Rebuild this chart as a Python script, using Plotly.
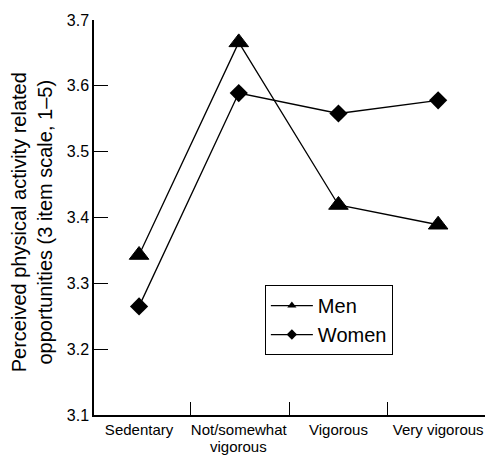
import plotly.graph_objects as go

categories = ["Sedentary", "Not/somewhat<br>vigorous", "Vigorous", "Very vigorous"]
men = [3.343, 3.666, 3.419, 3.389]
women = [3.265, 3.589, 3.558, 3.578]
y_ticks = [3.1, 3.2, 3.3, 3.4, 3.5, 3.6, 3.7]

x = list(range(len(categories)))
FONT = "Liberation Sans, Arial, Helvetica, sans-serif"

# first line of each category goes on the axis, second lines (tight spacing) as annotations
first_lines = [c.split("<br>")[0] for c in categories]
second_lines = [(i, c.split("<br>")[1]) for i, c in enumerate(categories) if "<br>" in c]

fig = go.Figure()
fig.add_trace(go.Scatter(
    x=x, y=men, mode="lines+markers", showlegend=False, cliponaxis=False,
    line=dict(color="black", width=1.3),
    marker=dict(symbol="triangle-up", size=17, color="black",
                line=dict(color="black", width=1)),
))
fig.add_trace(go.Scatter(
    x=x, y=women, mode="lines+markers", showlegend=False, cliponaxis=False,
    line=dict(color="black", width=1.3),
    marker=dict(symbol="diamond", size=14, color="black"),
))
# legend-only entries with small markers
fig.add_trace(go.Scatter(
    x=[None], y=[None], mode="lines+markers", name="Men",
    line=dict(color="black", width=1.3),
    marker=dict(symbol="triangle-up", size=8, color="black"),
))
fig.add_trace(go.Scatter(
    x=[None], y=[None], mode="lines+markers", name="Women",
    line=dict(color="black", width=1.3),
    marker=dict(symbol="diamond", size=8, color="black"),
))

annotations = [dict(
    text="Perceived physical activity related<br>opportunities (3 item scale, 1–5)",
    xref="paper", yref="paper", x=-0.16, y=0.489,
    xanchor="center", yanchor="middle", textangle=-90,
    showarrow=False, font=dict(size=20, family=FONT, color="black"),
)]
for i, txt in second_lines:
    annotations.append(dict(
        text=txt, xref="x", yref="paper", x=i, y=0,
        xanchor="center", yanchor="bottom", yshift=-41, borderpad=0,
        showarrow=False, font=dict(size=15, family=FONT, color="black"),
    ))

fig.update_layout(
    width=485, height=455,
    margin=dict(l=94, r=0, t=20, b=40, autoexpand=False),
    paper_bgcolor="white", plot_bgcolor="white",
    font=dict(family=FONT, color="black"),
    legend=dict(
        x=0.437, y=0.329, xanchor="left", yanchor="top",
        bordercolor="black", borderwidth=1, bgcolor="white",
        font=dict(size=20, family=FONT, color="black"),
        tracegroupgap=0, itemwidth=42,
    ),
    xaxis=dict(
        range=[-0.452, 3.47],
        tickvals=x, ticktext=first_lines,
        ticks="", showgrid=False, zeroline=False, automargin=False,
        showline=True, linecolor="black", linewidth=1.5,
        ticklabeloverflow="allow",
        tickfont=dict(size=15, family=FONT, color="black"),
        minor=dict(tickvals=[0.52, 1.51, 2.49], ticks="inside",
                   ticklen=13, tickcolor="black", tickwidth=1, showgrid=False),
    ),
    yaxis=dict(
        range=[3.1, 3.7],
        tickvals=y_ticks, ticktext=[f"{v:.1f}" for v in y_ticks],
        ticks="inside", ticklen=14, tickcolor="black", tickwidth=1,
        showgrid=False, zeroline=False, automargin=False,
        showline=True, linecolor="black", linewidth=1.5,
        tickfont=dict(size=16, family=FONT, color="black"),
    ),
    annotations=annotations,
)

fig.write_html(
    "out.html",
    config={"displayModeBar": False},
    post_script="document.body.style.margin='0';document.body.style.overflow='hidden';",
)
